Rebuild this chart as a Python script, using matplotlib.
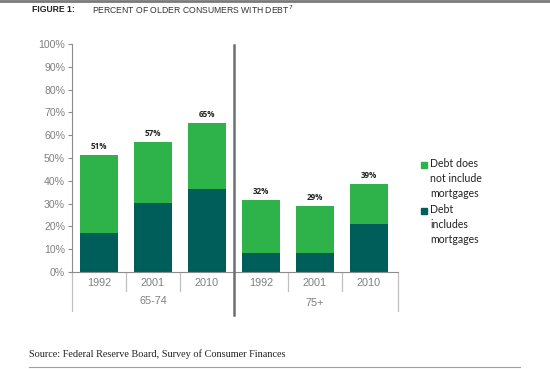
import matplotlib
matplotlib.use("Agg")
import matplotlib.pyplot as plt
from matplotlib.lines import Line2D
from matplotlib.patches import Rectangle

years = ["1992", "2001", "2010", "1992", "2001", "2010"]
groups = ["65-74", "75+"]
mortgage = [17.1, 30.1, 36.5, 8.3, 8.3, 21.0]
no_mortgage = [34.3, 26.7, 28.8, 23.3, 20.8, 17.6]
totals = ["51%", "57%", "65%", "32%", "29%", "39%"]
yticks = [0, 10, 20, 30, 40, 50, 60, 70, 80, 90, 100]
legend_labels = ["Debt does\nnot include\nmortgages", "Debt\nincludes\nmortgages"]

GREEN = "#2eb34b"
TEAL = "#005e5a"
GRAY = "#8c8c8c"
TXT = "#7f7f7f"

W, H = 550, 369
fig = plt.figure(figsize=(5.5, 3.69), dpi=100)
ax = fig.add_axes([72 / W, (H - 272) / H, (398 - 72) / W, (272 - 44) / H])

x = list(range(len(years)))
ax.bar(x, mortgage, width=0.70, color=TEAL, edgecolor="none", zorder=2)
ax.bar(x, no_mortgage, bottom=mortgage, width=0.70, color=GREEN, edgecolor="none", zorder=2)
for i in x:
    top = mortgage[i] + no_mortgage[i]
    ax.text(i, top + 1.8, totals[i], ha="center", va="bottom", fontsize=5.8,
            fontweight="bold", color="#222222", family="Open Sans")

ax.set_xlim(-0.5, 5.54)
ax.set_ylim(0, 100)
ax.set_yticks(yticks)
ax.set_yticklabels([f"{v}%" for v in yticks], fontsize=7.6, color=TXT, family="Liberation Sans")
ax.tick_params(axis="y", length=3, color=GRAY, width=0.8, pad=2)
ax.set_xticks([])
for s in ["top", "right"]:
    ax.spines[s].set_visible(False)
ax.spines["left"].set_color(GRAY)
ax.spines["bottom"].set_color(GRAY)
ax.spines["left"].set_linewidth(0.8)
ax.spines["bottom"].set_linewidth(0.8)

trans = ax.get_xaxis_transform()
px = 1 / 228.0  # axes fraction per pixel vertically
# year separators
for b in [0.5, 1.5, 3.5, 4.5]:
    ax.add_line(Line2D([b, b], [0, -19 * px], transform=trans, color="#c0c0c0", lw=0.9, clip_on=False))
for b in [-0.5, 5.54]:
    ax.add_line(Line2D([b, b], [0, -39 * px], transform=trans, color="#c0c0c0", lw=0.9, clip_on=False))
# group divider
ax.add_line(Line2D([2.5, 2.5], [(272 - 45) * px, -43 * px], transform=trans, color="#6e6e6e",
                   lw=1.8, clip_on=False, zorder=5))
for i, yl in enumerate(years):
    ax.text(i, -11 * px, yl, transform=trans, ha="center", va="center", fontsize=7.8,
            color=TXT, family="Liberation Sans")
ax.text(1, -29 * px, groups[0], transform=trans, ha="center", va="center", fontsize=7.8,
        color=TXT, family="Liberation Sans")
ax.text(4, -31 * px, groups[1], transform=trans, ha="center", va="center", fontsize=7.8,
        color=TXT, family="Liberation Sans")

# legend
for (ly, lab, col) in [(165, legend_labels[0], GREEN), (211, legend_labels[1], TEAL)]:
    fig.patches.append(Rectangle(((421) / W, (H - ly - 3) / H), 6 / W, 6 / H,
                                 transform=fig.transFigure, color=col, figure=fig))
    fig.text(430 / W, (H - ly + 7) / H, lab, ha="left", va="top", fontsize=7.6,
             color="#222222", family="Lato", linespacing=1.45)

# title
fig.add_artist(Line2D([0, 1], [1 - 1 / H, 1 - 1 / H], transform=fig.transFigure, color="#7a7a7a", lw=2))
fig.text(32 / W, (H - 10) / H, "FIGURE 1:", fontsize=6.2, fontweight="bold", color="#222222",
         family="Liberation Sans", va="center", ha="left")
fig.text(92 / W, (H - 10) / H, "PERCENT OF OLDER CONSUMERS WITH DEBT$^{7}$", fontsize=6.2,
         color="#333333", family="Liberation Sans", va="center", ha="left")

# source
fig.text(29 / W, (H - 354) / H, "Source: Federal Reserve Board, Survey of Consumer Finances",
         fontsize=7.4, color="#222222", family="Liberation Serif", va="center", ha="left")
fig.add_artist(Line2D([29 / W, 520 / W], [(H - 367) / H] * 2, transform=fig.transFigure,
                      color="#a0a0a0", lw=0.8))

fig.savefig("out.png", dpi=100)
